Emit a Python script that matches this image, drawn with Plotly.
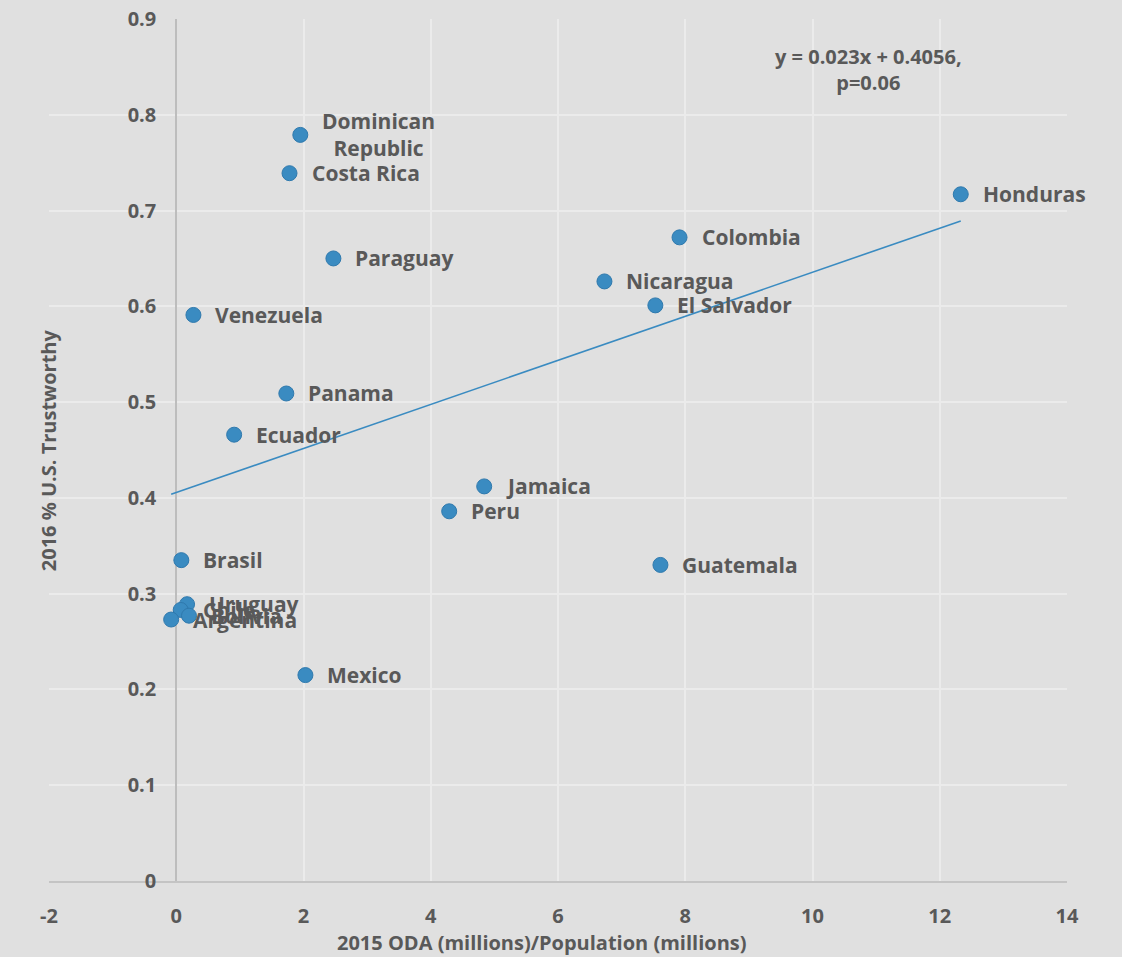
import plotly.graph_objects as go

# data
countries = ["Dominican<br>Republic", "Costa Rica", "Honduras", "Colombia", "Paraguay",
             "Nicaragua", "El Salvador", "Venezuela", "Panama", "Ecuador", "Jamaica",
             "Peru", "Guatemala", "Brasil", "Uruguay", "Chile", "Bolivia", "Argentina", "Mexico"]
oda_per_cap = [1.95, 1.78, 12.33, 7.91, 2.47, 6.73, 7.53, 0.27, 1.73, 0.91, 4.84,
               4.29, 7.61, 0.08, 0.17, 0.07, 0.20, -0.08, 2.03]
trust_us = [0.779, 0.739, 0.717, 0.672, 0.650, 0.626, 0.601, 0.591, 0.509, 0.466, 0.412,
            0.386, 0.330, 0.335, 0.289, 0.283, 0.277, 0.273, 0.215]

slope = 0.023
intercept = 0.4056
x_ticks = [-2, 0, 2, 4, 6, 8, 10, 12, 14]
x_tick_labels = ["-2", "0", "2", "4", "6", "8", "10", "12", "14"]
y_ticks = [0, 0.1, 0.2, 0.3, 0.4, 0.5, 0.6, 0.7, 0.8, 0.9]

BG = "#E0E0E0"
TEXT = "#595959"
BLUE = "#3A8BC1"
FONT = "Open Sans"

fig = go.Figure()

# trendline over the range of the data
x_fit = [min(oda_per_cap), max(oda_per_cap)]
y_fit = [intercept + slope * v for v in x_fit]
fig.add_trace(go.Scatter(x=x_fit, y=y_fit, mode="lines",
                         line=dict(color=BLUE, width=1.6), hoverinfo="skip"))

fig.add_trace(go.Scatter(x=oda_per_cap, y=trust_us, mode="markers",
                         marker=dict(size=15, color=BLUE, line=dict(color="#2F79AD", width=1)),
                         text=countries, hoverinfo="text"))

bold = dict(family=FONT, size=21, color=TEXT, weight=700)

# country labels (the cluster near 0 overlaps, as in the original)
for name, xv, yv in zip(countries, oda_per_cap, trust_us):
    fig.add_annotation(x=xv, y=yv, text=name, showarrow=False, xanchor="left",
                       yanchor="middle", xshift=20, align="center", font=bold)

fig.add_annotation(x=10.88, y=0.847, text="y = 0.023x + 0.4056,<br>p=0.06", showarrow=False,
                   align="center", font=dict(bold, size=20))

# axis titles as annotations
fig.add_annotation(x=-0.016, y=0.5, xref="paper", yref="paper", text="2016 % U.S. Trustworthy",
                   textangle=-90, showarrow=False, font=dict(bold, size=20))
fig.add_annotation(x=0.484, y=-0.071, xref="paper", yref="paper", yanchor="middle",
                   text="2015 ODA (millions)/Population (millions)", showarrow=False,
                   font=dict(bold, size=20))

fig.update_layout(
    width=1122, height=957,
    paper_bgcolor=BG, plot_bgcolor=BG,
    showlegend=False,
    margin=dict(l=49, r=55, t=19, b=76),
    font=dict(family=FONT, color=TEXT),
    xaxis=dict(range=[-2, 14], tickvals=x_ticks, ticktext=x_tick_labels,
               showgrid=True, gridcolor="#EBEBEB", gridwidth=1.5,
               zeroline=True, zerolinecolor="#BDBDBD", zerolinewidth=2,
               showline=True, linecolor="#C4C4C4", linewidth=2,
               tickfont=dict(bold, size=20), automargin=False,
               ticklabelstandoff=16),
    yaxis=dict(range=[0, 0.9], tickvals=y_ticks, tickformat="~g",
               showgrid=True, gridcolor="#EBEBEB", gridwidth=1.5,
               zeroline=False, anchor="free", position=0.125, automargin=False,
               tickfont=dict(bold, size=20),
               ticklabelstandoff=20),
)

fig.write_html("out.html", config={"displayModeBar": False},
               post_script="document.body.style.margin='0';")
